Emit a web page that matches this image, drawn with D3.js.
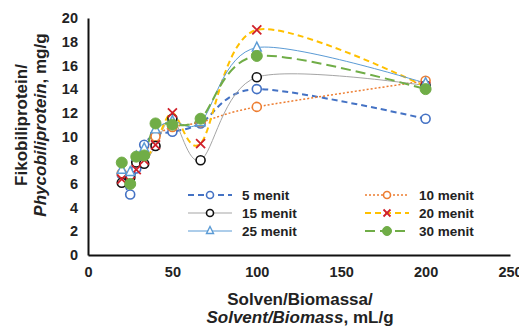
<!DOCTYPE html>
<html>
<head>
<meta charset="utf-8">
<script src="https://cdn.jsdelivr.net/npm/d3@7"></script>
<style>
  body { margin: 0; background: #fff; }
  text { font-family: "Liberation Sans", Arial, sans-serif; font-weight: bold; fill: #222; }
</style>
</head>
<body>
<div id="container"></div>
<script>
//---------------------------------------------------------
// DATA

const ratios = [20, 25, 28.6, 33.3, 40, 50, 66.7, 100, 200]
const xTicks = [0, 50, 100, 150, 200, 250]
const yTicks = [0, 2, 4, 6, 8, 10, 12, 14, 16, 18, 20]

const menit5 = [6.8, 5.1, 7.3, 9.3, 10.2, 10.4, 11.1, 14.0, 11.5]
const menit10 = [6.9, 6.6, 8.0, 8.5, 10.0, 10.8, 11.2, 12.5, 14.7]
const menit15 = [6.1, 6.5, 7.8, 7.7, 9.2, 11.5, 8.0, 15.0, 14.3]
const menit20 = [6.4, 6.2, 7.2, 8.0, 9.3, 12.0, 9.4, 19.0, 14.2]
const menit25 = [7.2, 7.0, 8.3, 9.0, 10.6, 11.3, 11.2, 17.5, 14.5]
const menit30 = [7.8, 6.0, 8.3, 8.4, 11.1, 11.0, 11.5, 16.8, 14.0]

const series = [
  {name: '5 menit', values: menit5, line: '#4472C4', dash: '6,4', width: 2, marker: 'circle', mStroke: '#4472C4', mFill: '#fff'},
  {name: '10 menit', values: menit10, line: '#ED7D31', dash: '2,2', width: 1.5, marker: 'circle', mStroke: '#ED7D31', mFill: '#fff'},
  {name: '15 menit', values: menit15, line: '#A5A5A5', dash: null, width: 1, marker: 'circle', mStroke: '#111', mFill: '#fff'},
  {name: '20 menit', values: menit20, line: '#FFC000', dash: '6,4', width: 2, marker: 'x', mStroke: '#D0202A', mFill: 'none'},
  {name: '25 menit', values: menit25, line: '#5B9BD5', dash: null, width: 1, marker: 'triangle', mStroke: '#5B9BD5', mFill: '#fff'},
  {name: '30 menit', values: menit30, line: '#70AD47', dash: '10,5', width: 2, marker: 'dot', mStroke: '#70AD47', mFill: '#70AD47'}
]

//---------------------------------------------------------
// SETUP

const width = 519
const height = 329
const margin = {top: 18, right: 9, bottom: 74, left: 88}

const svg = d3.select('#container').append('svg')
  .attr('width', width)
  .attr('height', height)

const x = d3.scaleLinear().domain([0, 250]).range([margin.left, width - margin.right])
const y = d3.scaleLinear().domain([0, 20]).range([height - margin.bottom, margin.top])

//---------------------------------------------------------
// AXES

const xAxis = svg.append('g')
  .attr('transform', `translate(0,${y(0)})`)
  .call(d3.axisBottom(x).tickValues(xTicks).tickSize(0).tickPadding(12))
xAxis.select('.domain').attr('stroke', '#111').attr('stroke-width', 2)
xAxis.selectAll('text').style('font-size', '14.5px').attr('fill', '#222')

const yAxis = svg.append('g')
  .attr('transform', `translate(${x(0)},0)`)
  .call(d3.axisLeft(y).tickValues(yTicks).tickSize(0).tickPadding(10))
yAxis.select('.domain').attr('stroke', '#111').attr('stroke-width', 2)
yAxis.selectAll('text').style('font-size', '14.5px').attr('fill', '#222')

// axis titles
const xTitle = svg.append('text')
  .attr('text-anchor', 'middle')
  .style('font-size', '17px')
xTitle.append('tspan').attr('x', 300).attr('y', 305).text('Solven/Biomassa/')
const xt2 = xTitle.append('tspan').attr('x', 300).attr('y', 323)
xt2.append('tspan').style('font-style', 'italic').text('Solvent/Biomass')
xt2.append('tspan').text(', mL/g')

const yTitle = svg.append('text')
  .attr('text-anchor', 'middle')
  .attr('transform', 'translate(0,125) rotate(-90)')
  .style('font-size', '17px')
yTitle.append('tspan').attr('x', 0).attr('y', 27).text('Fikobiliprotein/')
const yt2 = yTitle.append('tspan').attr('x', 0).attr('y', 46)
yt2.append('tspan').style('font-style', 'italic').text('Phycobiliprotein')
yt2.append('tspan').text(', mg/g')

//---------------------------------------------------------
// LINES & MARKERS

const line = d3.line()
  .x(d => x(d[0]))
  .y(d => y(d[1]))
  .curve(d3.curveCardinal.tension(0.1))

function drawMarker(g, s, cx, cy, r) {
  if (s.marker === 'circle') {
    g.append('circle').attr('cx', cx).attr('cy', cy).attr('r', r)
      .attr('fill', s.mFill).attr('stroke', s.mStroke).attr('stroke-width', 1.6)
  } else if (s.marker === 'dot') {
    g.append('circle').attr('cx', cx).attr('cy', cy).attr('r', r + 1)
      .attr('fill', s.mFill).attr('stroke', s.mStroke)
  } else if (s.marker === 'triangle') {
    g.append('path')
      .attr('d', `M${cx},${cy - r - 1}L${cx + r},${cy + r - 1}L${cx - r},${cy + r - 1}Z`)
      .attr('fill', s.mFill).attr('stroke', s.mStroke).attr('stroke-width', 1.4)
  } else if (s.marker === 'x') {
    g.append('path')
      .attr('d', `M${cx - r},${cy - r}L${cx + r},${cy + r}M${cx + r},${cy - r}L${cx - r},${cy + r}`)
      .attr('stroke', s.mStroke).attr('stroke-width', 1.8)
  }
}

const plot = svg.append('g')

series.forEach(s => {
  const pts = ratios.map((r, i) => [r, s.values[i]])
  plot.append('path')
    .datum(pts)
    .attr('d', line)
    .attr('fill', 'none')
    .attr('stroke', s.line)
    .attr('stroke-width', s.width)
    .attr('stroke-dasharray', s.dash)
})

series.forEach(s => {
  const g = plot.append('g')
  ratios.forEach((r, i) => drawMarker(g, s, x(r), y(s.values[i]), 4.5))
})

//---------------------------------------------------------
// LEGEND

const legendCols = [188, 365]
const legendRows = [195, 213, 231]

series.forEach((s, i) => {
  const lx = legendCols[i % 2]
  const ly = legendRows[Math.floor(i / 2)]
  const g = svg.append('g')
  g.append('line')
    .attr('x1', lx).attr('x2', lx + 44)
    .attr('y1', ly).attr('y2', ly)
    .attr('stroke', s.line)
    .attr('stroke-width', s.width)
    .attr('stroke-dasharray', s.dash)
  drawMarker(g, s, lx + 22, ly, 3.5)
  g.append('text')
    .attr('x', lx + 54)
    .attr('y', ly)
    .attr('dy', '0.35em')
    .style('font-size', '13.5px')
    .text(s.name)
})
</script>
</body>
</html>
